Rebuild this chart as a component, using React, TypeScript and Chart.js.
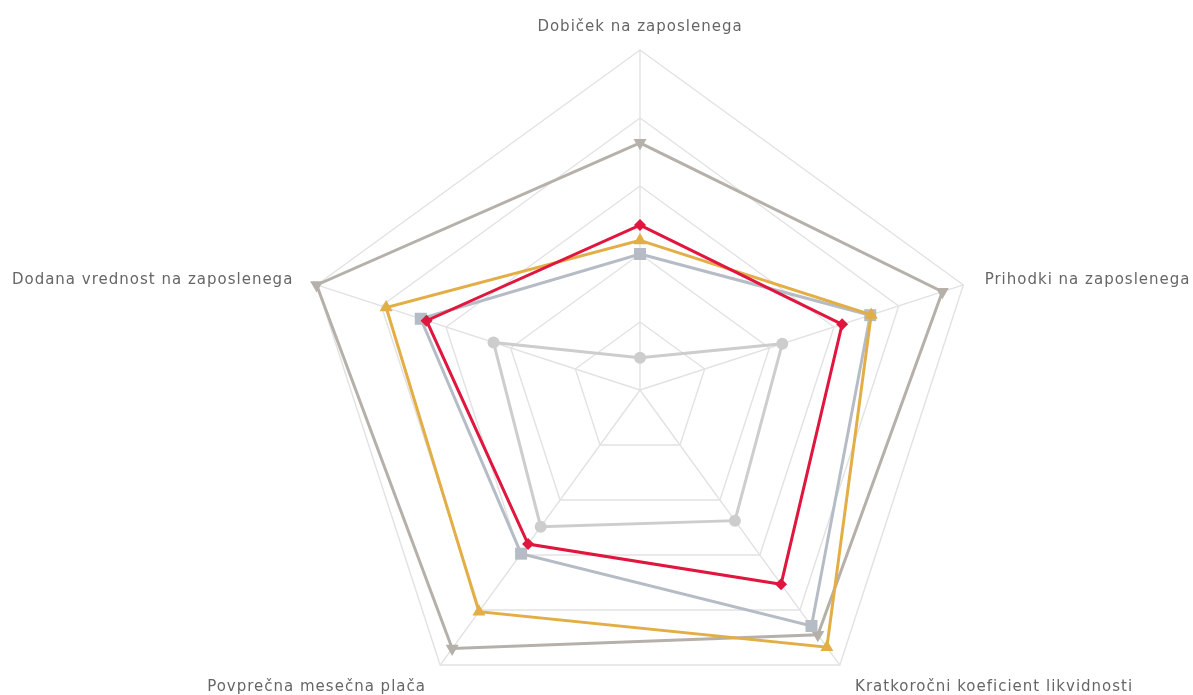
import React, { useEffect, useRef } from "react";
import { Chart, registerables } from "chart.js";

Chart.register(...registerables);

const categories = [
  "Dobiček na zaposlenega",
  "Prihodki na zaposlenega",
  "Kratkoročni koeficient likvidnosti",
  "Povprečna mesečna plača",
  "Dodana vrednost na zaposlenega",
];

const redValues = [48.5, 62.5, 70.6, 56, 66];
const goldValues = [44, 71.5, 93.5, 80.6, 78.5];
const squareValues = [40, 71.2, 85.8, 59.5, 67.8];
const taupeValues = [72.7, 93.5, 89, 94, 100];
const lightValues = [9.5, 44, 47.5, 49.7, 45.3];

const scaleMax = 100;
const scaleStep = 20;

// layout constants (pixels)
const CX = 640;
const CY = 390;
const RADIUS = 340;
const LABEL_PAD = 14;
const labelShiftX = [0, 8, 7, -6, -10];
const labelShiftY = [0, 9, 2, 2, 9];

const letterSpacingPlugin = {
  id: "letterSpacing",
  beforeUpdate(chart: any) {
    chart.ctx.letterSpacing = "1px";
  },
  beforeDraw(chart: any) {
    chart.ctx.letterSpacing = "1px";
  },
};

export default function App() {
  const ref = useRef<HTMLCanvasElement | null>(null);
  useEffect(() => {
    if (!ref.current) return;
    const mk = (
      data: number[],
      color: string,
      style: any,
      rotation: number,
      radius: number,
      order: number
    ) => ({
      data,
      borderColor: color,
      backgroundColor: color,
      pointBackgroundColor: color,
      pointBorderColor: color,
      pointBorderWidth: 0,
      pointStyle: style,
      pointRotation: rotation,
      pointRadius: radius,
      borderWidth: 3,
      fill: false,
      order,
    });
    const chart = new Chart(ref.current, {
      type: "radar",
      plugins: [letterSpacingPlugin],
      data: {
        labels: categories,
        datasets: [
          mk(redValues, "#e0163f", "rectRot", 0, 6, 0),
          mk(goldValues, "#e2ae45", "triangle", 0, 7.5, 1),
          mk(squareValues, "#b5bcc5", "rect", 0, 8.5, 2),
          mk(taupeValues, "#b6b0aa", "triangle", 180, 7.5, 3),
          mk(lightValues, "#cdcdcd", "circle", 0, 6, 4),
        ],
      },
      options: {
        responsive: false,
        animation: false,
        plugins: { legend: { display: false }, tooltip: { enabled: false } },
        elements: { line: { tension: 0 } },
        scales: {
          r: {
            min: 0,
            max: scaleMax,
            ticks: { display: false, stepSize: scaleStep },
            grid: { color: "#e2e2e2", lineWidth: 1.4 },
            angleLines: { color: "#e2e2e2", lineWidth: 1.4 },
            pointLabels: {
              color: "#666666",
              padding: LABEL_PAD,
              font: { family: "'DejaVu Sans', sans-serif", size: 15 },
            },
            afterFit: (scale: any) => {
              const n = scale._pointLabels.length;
              const old: any[] = [];
              for (let i = 0; i < n; i++) {
                old[i] = scale.getPointPosition(i, scale.drawingArea + LABEL_PAD);
              }
              scale.xCenter = CX;
              scale.yCenter = CY;
              scale.drawingArea = RADIUS;
              const items = scale._pointLabelItems || [];
              for (let i = 0; i < items.length; i++) {
                const nw = scale.getPointPosition(i, RADIUS + LABEL_PAD);
                const dx = nw.x - old[i].x + labelShiftX[i];
                const dy = nw.y - old[i].y + labelShiftY[i];
                const it = items[i];
                it.x += dx;
                it.left += dx;
                it.right += dx;
                it.y += dy;
                it.top += dy;
                it.bottom += dy;
              }
            },
          } as any,
        },
      },
    });
    return () => chart.destroy();
  }, []);
  return (
    <div style={{ position: "fixed", left: 0, top: 0, width: 1193, height: 695, background: "#fff", overflow: "hidden" }}>
      <canvas ref={ref} width={1193} height={695} style={{ width: 1193, height: 695 }} />
    </div>
  );
}
